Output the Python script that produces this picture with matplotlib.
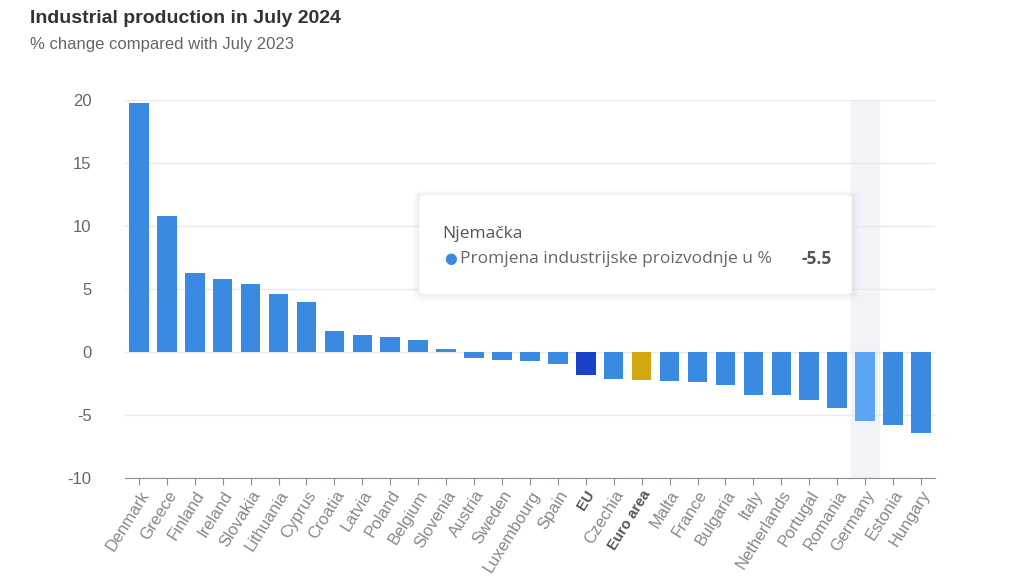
import matplotlib.pyplot as plt
from matplotlib.patches import FancyBboxPatch

plt.rcParams['font.family'] = ['Liberation Sans', 'DejaVu Sans']
plt.rcParams['axes.unicode_minus'] = False

countries = ['Denmark', 'Greece', 'Finland', 'Ireland', 'Slovakia', 'Lithuania', 'Cyprus',
             'Croatia', 'Latvia', 'Poland', 'Belgium', 'Slovenia', 'Austria', 'Sweden',
             'Luxembourg', 'Spain', 'EU', 'Czechia', 'Euro area', 'Malta', 'France',
             'Bulgaria', 'Italy', 'Netherlands', 'Portugal', 'Romania', 'Germany',
             'Estonia', 'Hungary']
change = [19.8, 10.8, 6.3, 5.8, 5.4, 4.6, 4.0, 1.7, 1.35, 1.2, 0.95, 0.25, -0.5, -0.6,
          -0.7, -0.95, -1.8, -2.1, -2.2, -2.3, -2.4, -2.6, -3.4, -3.4, -3.8, -4.4, -5.5,
          -5.8, -6.4]
y_ticks = [20, 15, 10, 5, 0, -5, -10]

base_col = '#3a8ae2'
special = {'EU': '#1942c8', 'Euro area': '#d3a710', 'Germany': '#5ba6f4'}
colors = [special.get(c, base_col) for c in countries]

fig = plt.figure(figsize=(10.24, 5.76), dpi=100)
ax = fig.add_axes([0.122, 0.170, 0.791, 0.656])

x = list(range(len(countries)))
hi = countries.index('Germany')
ax.axvspan(hi - 0.5, hi + 0.5, color='#f2f3f8', zorder=0)
ax.bar(x, change, width=0.7, color=colors, zorder=3)

ax.set_xlim(-0.5, len(countries) - 0.5)
ax.set_ylim(-10, 20)
ax.set_yticks(y_ticks)
ax.yaxis.grid(True, color='#e6e9f0', linewidth=1)
ax.set_axisbelow(True)
for s in ['top', 'right', 'left']:
    ax.spines[s].set_visible(False)
ax.spines['bottom'].set_color('#8a8f99')
ax.tick_params(axis='y', length=0, labelsize=12, labelcolor='#666666', pad=24)
ax.tick_params(axis='x', length=5, color='#8a8f99', labelsize=12, labelcolor='#888888', pad=2)
ax.set_xticks(x)
ax.set_xticklabels(countries, rotation=58, ha='right', rotation_mode='anchor')
for lab in ax.get_xticklabels():
    if lab.get_text() in ('EU', 'Euro area'):
        lab.set_fontweight('bold')
        lab.set_fontsize(10.5)
        lab.set_color('#555555')

fig.text(0.029, 0.982, 'Industrial production in July 2024', fontsize=14,
         fontweight='bold', color='#333333', va='top')
fig.text(0.029, 0.935, '% change compared with July 2023', fontsize=12,
         color='#666666', va='top')

# tooltip box
bx, by, bw, bh = 0.409, 0.488, 0.423, 0.175
for i, a in enumerate([0.012, 0.018, 0.025]):
    k = 3 - i
    sh = FancyBboxPatch((bx - 0.002 * k, by - 0.004 * k), bw + 0.004 * k, bh + 0.006 * k,
                        boxstyle='round,pad=0,rounding_size=0.008', transform=fig.transFigure,
                        facecolor='#000000', edgecolor='none', alpha=a, zorder=9)
    fig.patches.append(sh)
box = FancyBboxPatch((bx, by), bw, bh, boxstyle='round,pad=0,rounding_size=0.008',
                     transform=fig.transFigure, facecolor='white', edgecolor='#f0f0f0',
                     linewidth=0.8, zorder=10)
fig.patches.append(box)
tip_font = ['Open Sans', 'DejaVu Sans']
fig.text(0.432, 0.594, 'Njemačka', fontsize=12.5, color='#555555', va='center',
         family=tip_font, zorder=11)
fig.text(0.440, 0.551, '●', fontsize=10.5, color=base_col, va='center', ha='center',
         family=['DejaVu Sans'], zorder=11)
fig.text(0.449, 0.551, 'Promjena industrijske proizvodnje u %', fontsize=12.5,
         color='#666666', va='center', family=tip_font, zorder=11)
fig.text(0.812, 0.551, '-5.5', fontsize=12.5, color='#555555', fontweight='bold',
         va='center', ha='right', family=tip_font, zorder=11)

fig.savefig('out.png', dpi=100)
